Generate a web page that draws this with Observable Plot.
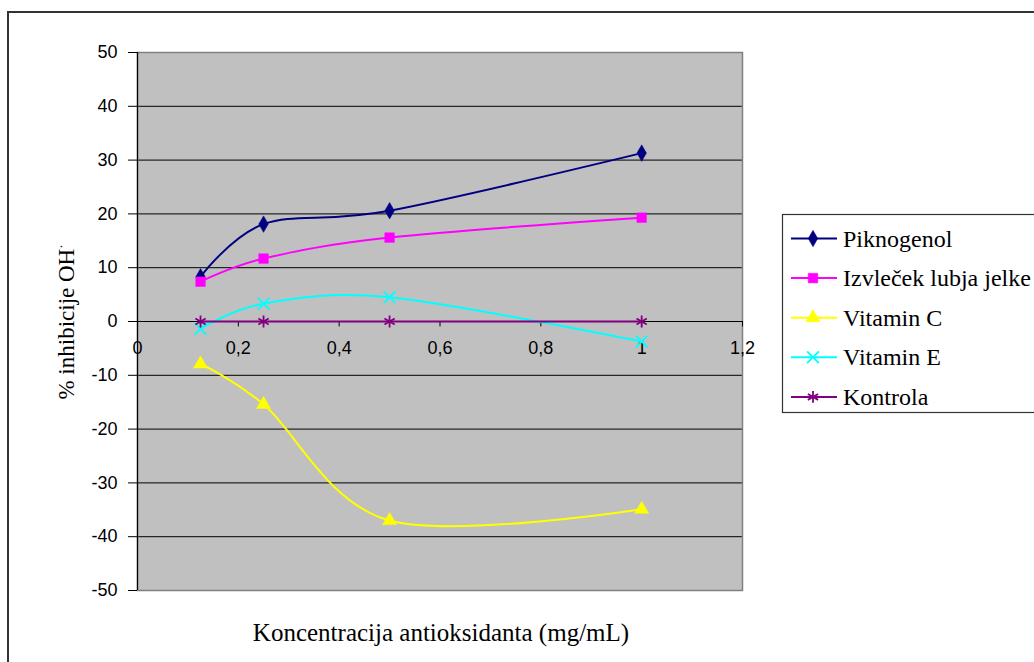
<!DOCTYPE html>
<html>
<head>
<meta charset="utf-8">
<script src="https://cdn.jsdelivr.net/npm/d3@7"></script>
<script src="https://cdn.jsdelivr.net/npm/@observablehq/plot@0.6"></script>
<style>
  html, body { margin: 0; padding: 0; background: white; }
</style>
</head>
<body>
<div id="chart"></div>
<script>
// ---- data ----
const concentrations = [0.125, 0.25, 0.5, 1];
const piknogenol = [8.3, 18.1, 20.6, 31.3];
const izvlecek = [7.4, 11.7, 15.6, 19.3];
const vitaminC = [-7.9, -15.4, -37.0, -34.9];
const vitaminE = [-1.4, 3.3, 4.5, -3.7];
const kontrola = [0, 0, 0, 0];
const seriesNames = ["Piknogenol", "Izvleček lubja jelke", "Vitamin C", "Vitamin E", "Kontrola"];
const seriesValues = [piknogenol, izvlecek, vitaminC, vitaminE, kontrola];
const xTicks = [0, 0.2, 0.4, 0.6, 0.8, 1, 1.2];
const xTickLabels = ["0", "0,2", "0,4", "0,6", "0,8", "1", "1,2"];
const yTicks = [-50, -40, -30, -20, -10, 0, 10, 20, 30, 40, 50];
const gridValues = [-40, -30, -20, -10, 10, 20, 30, 40];
const xTitle = "Koncentracija antioksidanta (mg/mL)";
const yTitle = "% inhibicije OH";

// ---- styles ----
const colors = ["#000080", "#FF00FF", "#FFFF00", "#00FFFF", "#800080"];
const symbols = ["diamond", "square", "triangle", "times", "asterisk"];
const radii = [5.0, 5.4, 5.2, 5.4, 5.6];
const filled = [true, true, true, false, false];
const d3Symbols = [d3.symbolDiamond, d3.symbolSquare, d3.symbolTriangle, d3.symbolTimes, d3.symbolAsterisk];

const rows = [];
seriesNames.forEach((name, i) => {
  concentrations.forEach((x, j) => rows.push({series: name, idx: i, x, y: seriesValues[i][j]}));
});

const serif = "'Liberation Serif', 'Times New Roman', serif";
const sans = "'Liberation Sans', Arial, sans-serif";

const marks = [
  Plot.frame({fill: "#C0C0C0", stroke: null}),
  Plot.ruleY(gridValues, {stroke: "#000", strokeWidth: 1}),
  Plot.frame({stroke: "#808080", strokeWidth: 1.5}),
  Plot.ruleX([0], {stroke: "#000", strokeWidth: 1.2}),
  Plot.ruleY([0], {stroke: "#000", strokeWidth: 1.2}),
  Plot.ruleX(xTicks.slice(1), {x: d => d, y1: 0, y2: -1, stroke: "#000", strokeWidth: 1}),
  Plot.text(xTicks, {x: d => d, y: 0, dy: 27, text: (d, i) => xTickLabels[i], fontSize: 18, fontFamily: sans, fill: "#000"}),
  Plot.axisY(yTicks, {tickSize: 9, tickPadding: 11, fontSize: 18, fontFamily: sans, label: null, tickFormat: d => String(d)})
];

seriesNames.forEach((name, i) => {
  const data = rows.filter(r => r.idx === i);
  marks.push(Plot.line(data, {x: "x", y: "y", stroke: colors[i], strokeWidth: 2, curve: "cardinal", tension: 0}));
  marks.push(Plot.dot(data, {
    x: "x", y: "y", symbol: () => symbols[i], r: radii[i],
    fill: filled[i] ? colors[i] : "none",
    stroke: colors[i], strokeWidth: filled[i] ? 0.5 : 1.8
  }));
});

const chart = Plot.plot({
  width: 1034,
  height: 662,
  marginLeft: 137,
  marginTop: 52,
  marginRight: 292,
  marginBottom: 72,
  style: {background: "white", fontFamily: sans},
  x: {domain: [0, 1.2], axis: null},
  y: {domain: [-50, 50]},
  symbol: {type: "identity"},
  marks
});

document.getElementById("chart").appendChild(chart);

// ---- decorations: border, titles, legend ----
const svg = d3.select(chart);

svg.append("rect")
  .attr("x", 8).attr("y", 12).attr("width", 1100).attr("height", 700)
  .attr("fill", "none").attr("stroke", "#333").attr("stroke-width", 2);

svg.append("text")
  .attr("x", 441).attr("y", 641)
  .attr("text-anchor", "middle")
  .style("font-family", serif).style("font-size", "25px")
  .attr("fill", "#000")
  .text(xTitle);

const yt = svg.append("text")
  .attr("transform", "translate(74,322) rotate(-90)")
  .attr("text-anchor", "middle")
  .style("font-family", serif).style("font-size", "23px")
  .attr("fill", "#000");
yt.append("tspan").text(yTitle);
yt.append("tspan").attr("dy", -9).style("font-size", "13px").text("·");

const lg = svg.append("g");
lg.append("rect")
  .attr("x", 782.5).attr("y", 214.5).attr("width", 300).attr("height", 198)
  .attr("fill", "white").attr("stroke", "#333").attr("stroke-width", 1.2);

seriesNames.forEach((name, i) => {
  const cy = 238.5 + i * 39.6;
  lg.append("line")
    .attr("x1", 791).attr("x2", 837).attr("y1", cy).attr("y2", cy)
    .attr("stroke", colors[i]).attr("stroke-width", 2);
  lg.append("path")
    .attr("transform", `translate(813,${cy})`)
    .attr("d", d3.symbol(d3Symbols[i], Math.PI * radii[i] * radii[i])())
    .attr("fill", filled[i] ? colors[i] : "none")
    .attr("stroke", colors[i]).attr("stroke-width", filled[i] ? 0.5 : 1.8);
  lg.append("text")
    .attr("x", 843).attr("y", cy + 8)
    .attr("text-anchor", "start")
    .style("font-family", serif).style("font-size", "24px")
    .attr("fill", "#000")
    .text(name);
});
</script>
</body>
</html>
